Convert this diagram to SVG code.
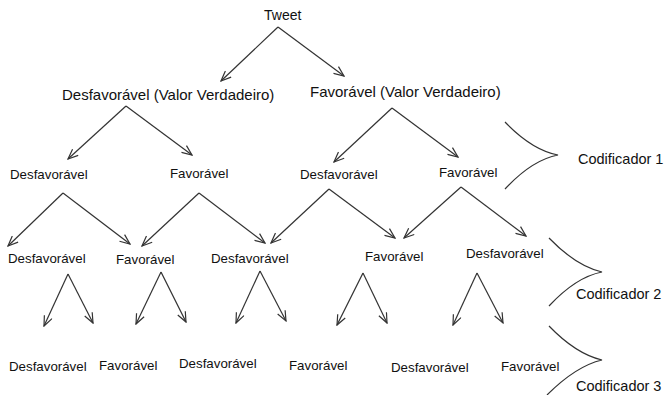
<svg xmlns="http://www.w3.org/2000/svg" width="667" height="395" viewBox="0 0 667 395">
<style>
text{font-family:"Liberation Sans",Arial,sans-serif;fill:#111}
.t1{font-size:15px}
.t0{font-size:14px}
.t2{font-size:13.3px}
.c{font-size:14.5px}
.e{stroke:#333;stroke-width:1.2;fill:none;marker-end:url(#arr)}
.b{stroke:#333;stroke-width:1.2;fill:none}
</style>
<defs>
<marker id="arr" markerUnits="userSpaceOnUse" viewBox="0 0 12 10" markerWidth="12" markerHeight="10" refX="11" refY="5" orient="auto">
<path d="M1,0.8 L11,5 L1,9.2" fill="none" stroke="#333" stroke-width="1.2"/>
</marker>
</defs>
<rect width="667" height="395" fill="#fff"/>
<g id="connectors">
<path class="e" d="M278,27 L221,81"/>
<path class="e" d="M278,27 L344,76"/>
<path class="e" d="M126,106 L68,159"/>
<path class="e" d="M126,106 L192,155"/>
<path class="e" d="M392,108 L334,162"/>
<path class="e" d="M392,108 L458,157"/>
<path class="e" d="M63,193 L8,246"/>
<path class="e" d="M63,193 L130,244"/>
<path class="e" d="M199,193 L142,246"/>
<path class="e" d="M199,193 L265,243"/>
<path class="e" d="M329,189 L271,243"/>
<path class="e" d="M329,189 L395,238"/>
<path class="e" d="M461,187 L404,238"/>
<path class="e" d="M461,187 L526,236"/>
<path class="e" d="M68,274 L44,326"/>
<path class="e" d="M68,274 L93,323"/>
<path class="e" d="M161,272 L136,324"/>
<path class="e" d="M161,272 L186,322"/>
<path class="e" d="M260,271 L236,323"/>
<path class="e" d="M260,271 L286,321"/>
<path class="e" d="M363,273 L337,325"/>
<path class="e" d="M363,273 L387,323"/>
<path class="e" d="M477,273 L453,325"/>
<path class="e" d="M477,273 L503,323"/>
</g>
<g id="tweet"><text class="t0" x="264" y="20">Tweet</text></g>
<g id="l1-desf"><text class="t1" x="62" y="100">Desfavorável (Valor Verdadeiro)</text></g>
<g id="l1-fav"><text class="t1" x="310" y="97">Favorável (Valor Verdadeiro)</text></g>
<g id="l2-desf-a"><text class="t2" x="10" y="179">Desfavorável</text></g>
<g id="l2-fav-a"><text class="t2" x="170" y="178">Favorável</text></g>
<g id="l2-desf-b"><text class="t2" x="300" y="179">Desfavorável</text></g>
<g id="l2-fav-b"><text class="t2" x="439" y="177">Favorável</text></g>
<g id="l3-desf-a"><text class="t2" x="8" y="263">Desfavorável</text></g>
<g id="l3-fav-a"><text class="t2" x="116" y="264">Favorável</text></g>
<g id="l3-desf-b"><text class="t2" x="211" y="263">Desfavorável</text></g>
<g id="l3-fav-b"><text class="t2" x="365" y="261">Favorável</text></g>
<g id="l3-desf-c"><text class="t2" x="466" y="258">Desfavorável</text></g>
<g id="l4-desf-a"><text class="t2" x="9" y="371">Desfavorável</text></g>
<g id="l4-fav-a"><text class="t2" x="99" y="370">Favorável</text></g>
<g id="l4-desf-b"><text class="t2" x="179" y="368">Desfavorável</text></g>
<g id="l4-fav-b"><text class="t2" x="289" y="370">Favorável</text></g>
<g id="l4-desf-c"><text class="t2" x="391" y="372">Desfavorável</text></g>
<g id="l4-fav-c"><text class="t2" x="501" y="371">Favorável</text></g>
<g id="cod1">
<path class="b" d="M505,122 Q532,150 558,155 Q532,160 505,189"/>
<text class="c" x="578" y="164">Codificador 1</text>
</g>
<g id="cod2">
<path class="b" d="M549,238 Q576,266 602,272 Q576,277 549,306"/>
<text class="c" x="576" y="299">Codificador 2</text>
</g>
<g id="cod3">
<path class="b" d="M549,326 Q576,354 602,360 Q576,366 547,395"/>
<text class="c" x="576" y="391">Codificador 3</text>
</g>
</svg>
